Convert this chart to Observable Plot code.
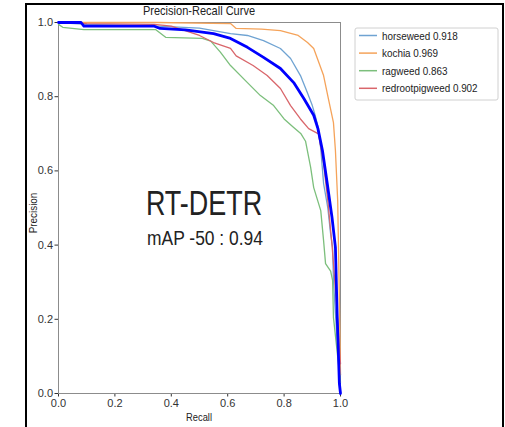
<!DOCTYPE html>
<html><head><meta charset="utf-8">
<script src="https://cdn.jsdelivr.net/npm/d3@7"></script>
<script src="https://cdn.jsdelivr.net/npm/@observablehq/plot@0.6"></script>
<style>
html,body{margin:0;padding:0;background:#fff;}
#wrap{position:relative;width:505px;height:427px;overflow:hidden;background:#fff;}
#wrap svg{position:absolute;left:0;top:0;}
#border{position:absolute;left:25px;top:3px;width:479px;height:440px;border:2px solid #000;box-sizing:border-box;pointer-events:none;}
</style></head><body>
<div id="wrap"></div>
<script>
// ---- data ----
const classes = ["horseweed", "kochia", "ragweed", "redrootpigweed"];
const classAP = [0.918, 0.969, 0.863, 0.902];
const classColors = ["#6fa3d2", "#f5a35a", "#7cbf7c", "#d9666b"];
const allClassesLabel = "all classes";
const allClassesColor = "#0000ff";
const xTicks = [0, 0.2, 0.4, 0.6, 0.8, 1.0];
const yTicks = [0, 0.2, 0.4, 0.6, 0.8, 1.0];

const horseweedRecall    = [0, 0.1, 0.35, 0.5, 0.61, 0.67, 0.727, 0.787, 0.823, 0.858, 0.883, 0.9, 0.91, 0.92, 0.93, 0.94, 0.955, 0.965, 0.972, 0.975, 0.982, 0.99, 1.0];
const horseweedPrecision = [1.0, 0.995, 0.99, 0.985, 0.97, 0.965, 0.951, 0.93, 0.903, 0.857, 0.81, 0.776, 0.75, 0.72, 0.66, 0.566, 0.5, 0.43, 0.394, 0.305, 0.216, 0.12, 0.05];

const kochiaRecall    = [0, 0.35, 0.61, 0.63, 0.72, 0.787, 0.85, 0.883, 0.905, 0.918, 0.94, 0.957, 0.975, 0.982, 0.99, 0.995, 1.0];
const kochiaPrecision = [1.0, 1.0, 0.997, 0.984, 0.982, 0.978, 0.965, 0.946, 0.93, 0.903, 0.857, 0.795, 0.73, 0.655, 0.52, 0.3, 0.05];

const ragweedRecall    = [0, 0.015, 0.09, 0.344, 0.38, 0.51, 0.54, 0.574, 0.61, 0.67, 0.716, 0.763, 0.8, 0.834, 0.86, 0.876, 0.894, 0.905, 0.93, 0.94, 0.947, 0.965, 0.972, 0.975, 0.99, 1.0];
const ragweedPrecision = [0.995, 0.987, 0.981, 0.981, 0.96, 0.957, 0.95, 0.92, 0.884, 0.838, 0.803, 0.776, 0.74, 0.717, 0.70, 0.68, 0.61, 0.555, 0.493, 0.412, 0.35, 0.33, 0.305, 0.205, 0.1, 0.03];

const redrootRecall    = [0, 0.1, 0.34, 0.4, 0.5, 0.55, 0.61, 0.63, 0.69, 0.74, 0.787, 0.823, 0.858, 0.887, 0.922, 0.94, 0.955, 0.97, 0.985, 1.0];
const redrootPrecision = [1.0, 0.997, 0.995, 0.99, 0.965, 0.946, 0.93, 0.91, 0.884, 0.857, 0.822, 0.776, 0.74, 0.714, 0.70, 0.62, 0.52, 0.40, 0.25, 0.08];

const allRecall    = [0, 0.08, 0.09, 0.34, 0.36, 0.45, 0.55, 0.61, 0.67, 0.727, 0.787, 0.834, 0.87, 0.905, 0.92, 0.936, 0.953, 0.97, 0.982, 0.988, 0.996, 1.0];
const allPrecision = [1.0, 1.0, 0.99, 0.99, 0.984, 0.98, 0.97, 0.957, 0.933, 0.906, 0.876, 0.838, 0.795, 0.75, 0.714, 0.655, 0.566, 0.474, 0.394, 0.216, 0.027, 0.0];

const titleText = "Precision-Recall Curve";
const xLabel = "Recall";
const yLabel = "Precision";
const modelName = "RT-DETR";
const mapText = "mAP -50 : 0.94";

// ---- build ----
const series = [
  [classes[0], horseweedRecall, horseweedPrecision],
  [classes[1], kochiaRecall, kochiaPrecision],
  [classes[2], ragweedRecall, ragweedPrecision],
  [classes[3], redrootRecall, redrootPrecision]
];
const rows = [];
series.forEach(([name, R, P]) => R.forEach((r, i) => rows.push({cls: name, r, p: P[i]})));
const allRows = allRecall.map((r, i) => ({cls: allClassesLabel, r, p: allPrecision[i]}));

const font = "'Liberation Sans', Arial, sans-serif";
const chart = Plot.plot({
  width: 505, height: 427,
  marginLeft: 58, marginRight: 165, marginTop: 22, marginBottom: 34,
  style: {fontFamily: font, fontSize: "11px", color: "#333", background: "transparent", overflow: "visible"},
  x: {domain: [0, 1], ticks: xTicks, tickFormat: d => d.toFixed(1), label: null, tickSize: 3.5, tickPadding: 2},
  y: {domain: [0, 1], ticks: yTicks, tickFormat: d => d.toFixed(1), label: null, tickSize: 3.5, tickPadding: 2},
  color: {domain: classes, range: classColors},
  marks: [
    Plot.frame({stroke: "#8c8c8c"}),
    Plot.line(rows, {x: "r", y: "p", z: "cls", stroke: "cls", strokeWidth: 1.3}),
    Plot.line(allRows, {x: "r", y: "p", stroke: allClassesColor, strokeWidth: 2.8})
  ]
});

const wrap = document.getElementById("wrap");
wrap.appendChild(chart);
const border = document.createElement("div");
border.id = "border";
wrap.appendChild(border);

const svg = d3.select(chart);
function txt(x, y, s, size, sx, anchor, extra) {
  return svg.append("text")
    .attr("transform", `translate(${x},${y}) ${extra || ""} scale(${sx},1)`)
    .attr("text-anchor", anchor)
    .attr("font-family", font)
    .attr("font-size", size)
    .attr("fill", "#222")
    .text(s);
}
txt(199, 15, titleText, 12, 0.92, "middle");
txt(199, 421, xLabel, 11, 0.85, "middle");
txt(37, 213, yLabel, 11, 0.9, "middle", "rotate(-90)");
txt(204, 215, modelName, 35, 0.77, "middle");
txt(205, 245, mapText, 21, 0.83, "middle");

// legend
const lg = svg.append("g");
lg.append("rect").attr("x", 355).attr("y", 28).attr("width", 143).attr("height", 72)
  .attr("fill", "#fff").attr("stroke", "#d0d0d0").attr("rx", 2);
classes.forEach((c, i) => {
  const y = 35.5 + i * 17.6;
  lg.append("line").attr("x1", 359).attr("x2", 377).attr("y1", y).attr("y2", y)
    .attr("stroke", classColors[i]).attr("stroke-width", 1.5);
  lg.append("text").attr("transform", `translate(382,${y + 4}) scale(0.86,1)`)
    .attr("text-anchor", "start")
    .attr("font-family", font).attr("font-size", 11.5).attr("fill", "#222")
    .text(`${c} ${classAP[i].toFixed(3)}`);
});
</script>
</body></html>
